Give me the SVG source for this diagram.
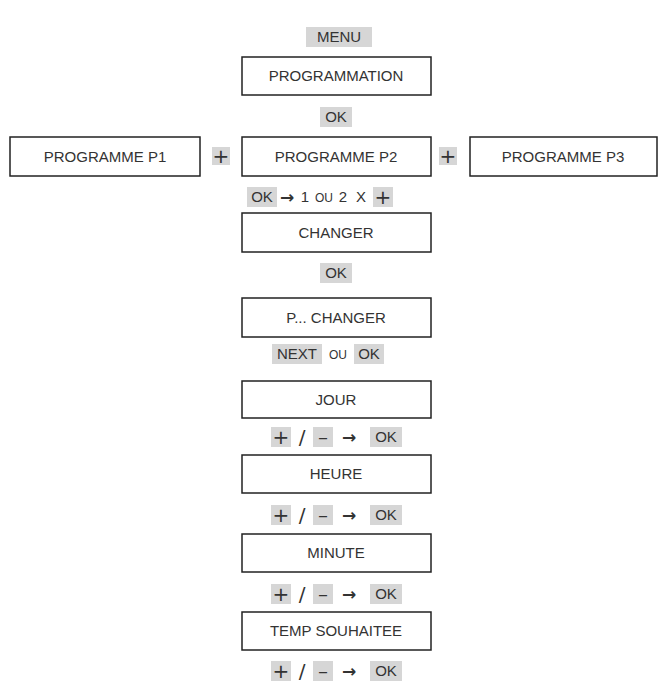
<svg xmlns="http://www.w3.org/2000/svg" width="668" height="696" viewBox="0 0 668 696">
<style>
.b{fill:#fff;stroke:#222;stroke-width:1.5}
.t{font-family:"Liberation Sans",Arial,sans-serif;font-size:15px;fill:#333;text-anchor:middle}
.s{font-size:12px}
.p{font-family:"DejaVu Sans",sans-serif;font-size:20px}
.a{font-family:"DejaVu Sans",sans-serif;font-size:17px;font-weight:bold}
.h{fill:#d6d6d6}
</style>
<rect width="668" height="696" fill="#fff"/>
<g id="labels">
<rect class="h" x="306" y="27" width="66" height="20"/><text class="t" x="339" y="42">MENU</text>
<rect class="h" x="320" y="107" width="32" height="20"/><text class="t" x="336" y="122">OK</text>
<rect class="h" x="212" y="147" width="18" height="18"/><text class="t p" x="221" y="163">+</text>
<rect class="h" x="439" y="147" width="18" height="18"/><text class="t p" x="448" y="163">+</text>
<rect class="h" x="247" y="187" width="30" height="20"/>
<text class="t" x="262" y="202">OK</text><text class="t a" x="287" y="203">→</text><text class="t" x="305" y="202">1</text><text class="t s" x="324" y="202">OU</text><text class="t" x="343" y="202">2</text><text class="t" x="361" y="202">X</text>
<rect class="h" x="373" y="187" width="20" height="20"/><text class="t p" x="383" y="204">+</text>
<rect class="h" x="320" y="263" width="32" height="20"/><text class="t" x="336" y="278">OK</text>
<rect class="h" x="272" y="344" width="50" height="20"/><text class="t" x="297" y="359">NEXT</text>
<text class="t s" x="338" y="359">OU</text>
<rect class="h" x="354" y="344" width="30" height="20"/><text class="t" x="369" y="359">OK</text>
</g>
<g id="pm">
<g transform="translate(0,437)">
<rect class="h" x="271" y="-10" width="20" height="20"/><text class="t p" x="281" y="7">+</text>
<text class="t p" x="302" y="7">/</text>
<rect class="h" x="313" y="-10" width="20" height="20"/><text class="t p" x="323" y="7">–</text>
<text class="t a" x="349" y="6">→</text>
<rect class="h" x="370" y="-10" width="32" height="20"/><text class="t" x="386" y="5">OK</text>
</g>
<g transform="translate(0,515)">
<rect class="h" x="271" y="-10" width="20" height="20"/><text class="t p" x="281" y="7">+</text>
<text class="t p" x="302" y="7">/</text>
<rect class="h" x="313" y="-10" width="20" height="20"/><text class="t p" x="323" y="7">–</text>
<text class="t a" x="349" y="6">→</text>
<rect class="h" x="370" y="-10" width="32" height="20"/><text class="t" x="386" y="5">OK</text>
</g>
<g transform="translate(0,594)">
<rect class="h" x="271" y="-10" width="20" height="20"/><text class="t p" x="281" y="7">+</text>
<text class="t p" x="302" y="7">/</text>
<rect class="h" x="313" y="-10" width="20" height="20"/><text class="t p" x="323" y="7">–</text>
<text class="t a" x="349" y="6">→</text>
<rect class="h" x="370" y="-10" width="32" height="20"/><text class="t" x="386" y="5">OK</text>
</g>
<g transform="translate(0,671)">
<rect class="h" x="271" y="-10" width="20" height="20"/><text class="t p" x="281" y="7">+</text>
<text class="t p" x="302" y="7">/</text>
<rect class="h" x="313" y="-10" width="20" height="20"/><text class="t p" x="323" y="7">–</text>
<text class="t a" x="349" y="6">→</text>
<rect class="h" x="370" y="-10" width="32" height="20"/><text class="t" x="386" y="5">OK</text>
</g>
</g>
<g id="prog"><rect class="b" x="242" y="57" width="189" height="38"/><text class="t" x="336" y="81">PROGRAMMATION</text></g>
<g id="p1"><rect class="b" x="10" y="137" width="190" height="39"/><text class="t" x="105" y="162">PROGRAMME P1</text></g>
<g id="p2"><rect class="b" x="242" y="137" width="189" height="39"/><text class="t" x="336" y="162">PROGRAMME P2</text></g>
<g id="p3"><rect class="b" x="470" y="137" width="187" height="39"/><text class="t" x="563" y="162">PROGRAMME P3</text></g>
<g id="changer"><rect class="b" x="242" y="213" width="189" height="39"/><text class="t" x="336" y="238">CHANGER</text></g>
<g id="pchanger"><rect class="b" x="242" y="298" width="189" height="39"/><text class="t" x="336" y="323">P... CHANGER</text></g>
<g id="jour"><rect class="b" x="242" y="381" width="189" height="37"/><text class="t" x="336" y="405">JOUR</text></g>
<g id="heure"><rect class="b" x="242" y="455" width="189" height="38"/><text class="t" x="336" y="479">HEURE</text></g>
<g id="minute"><rect class="b" x="242" y="534" width="189" height="38"/><text class="t" x="336" y="558">MINUTE</text></g>
<g id="temp"><rect class="b" x="242" y="612" width="189" height="38"/><text class="t" x="336" y="636">TEMP SOUHAITEE</text></g>
<g id="connectors"/>
</svg>
